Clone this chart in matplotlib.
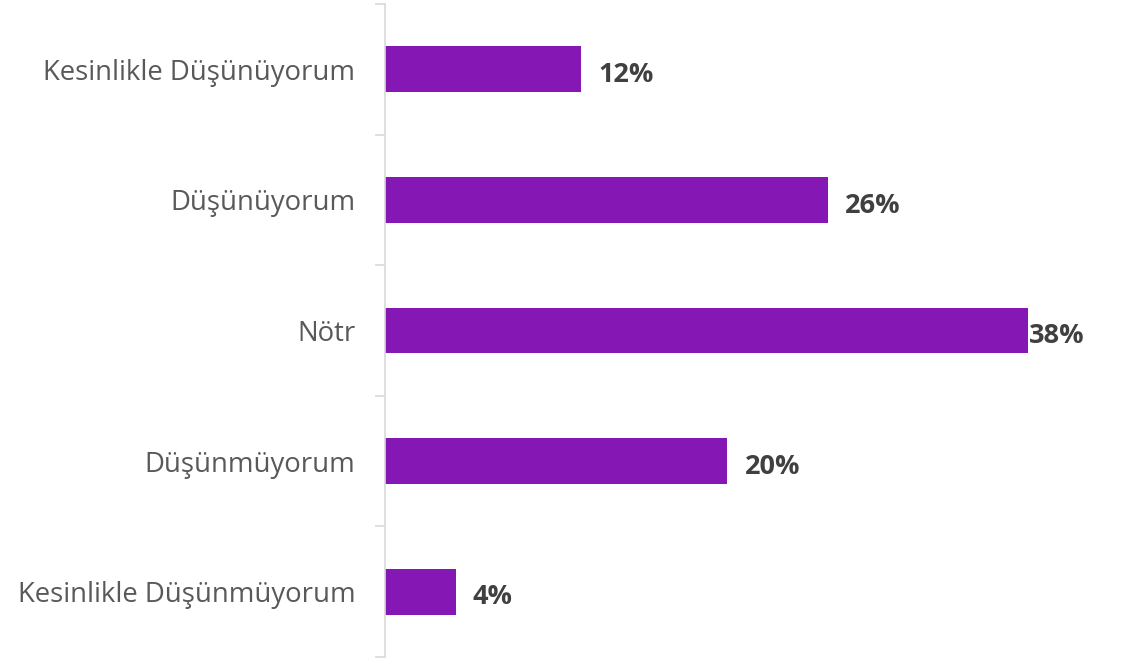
import matplotlib
matplotlib.use("Agg")
import matplotlib.pyplot as plt
from matplotlib.ticker import FixedLocator

categories = ["Kesinlikle Düşünüyorum", "Düşünüyorum", "Nötr", "Düşünmüyorum", "Kesinlikle Düşünmüyorum"]
values = [11.6, 26.1, 37.9, 20.2, 4.2]
labels = [f"{round(v)}%" for v in values]

plt.rcParams['font.family'] = ['Open Sans', 'DejaVu Sans']

W, H = 1123, 658
fig = plt.figure(figsize=(W / 100, H / 100), dpi=100)
ax = fig.add_axes([384.5 / W, 1 - 657 / H, (1028 - 384.5) / W, (657 - 4) / H])

y = list(range(len(categories)))
ax.barh(y, values, height=0.352, color="#8517B5")
ax.set_xlim(0, max(values))
ax.set_ylim(len(categories) - 0.5, -0.5)

ax.set_yticks(y)
ax.set_yticklabels(categories, fontsize=19.8, color="#595959")
ax.yaxis.set_minor_locator(FixedLocator([i - 0.5 for i in range(len(categories) + 1)]))
ax.tick_params(axis="y", which="major", length=0, pad=21)
ax.tick_params(axis="y", which="minor", length=7, width=1.2, color="#D9D9D9", direction="out")
ax.set_xticks([])

for s in ["top", "right", "bottom"]:
    ax.spines[s].set_visible(False)
ax.spines["left"].set_color("#D9D9D9")
ax.spines["left"].set_linewidth(1.2)

vmax = max(values)
for yi, v, lab in zip(y, values, labels):
    off = 1 if v == vmax else 17
    ax.annotate(lab, (v, yi), xytext=(off * 0.72, -2), textcoords="offset points",
                ha="left", va="center_baseline", fontsize=19.5, fontweight="bold", color="#404040",
                annotation_clip=False)

fig.savefig("out.png", dpi=100)
